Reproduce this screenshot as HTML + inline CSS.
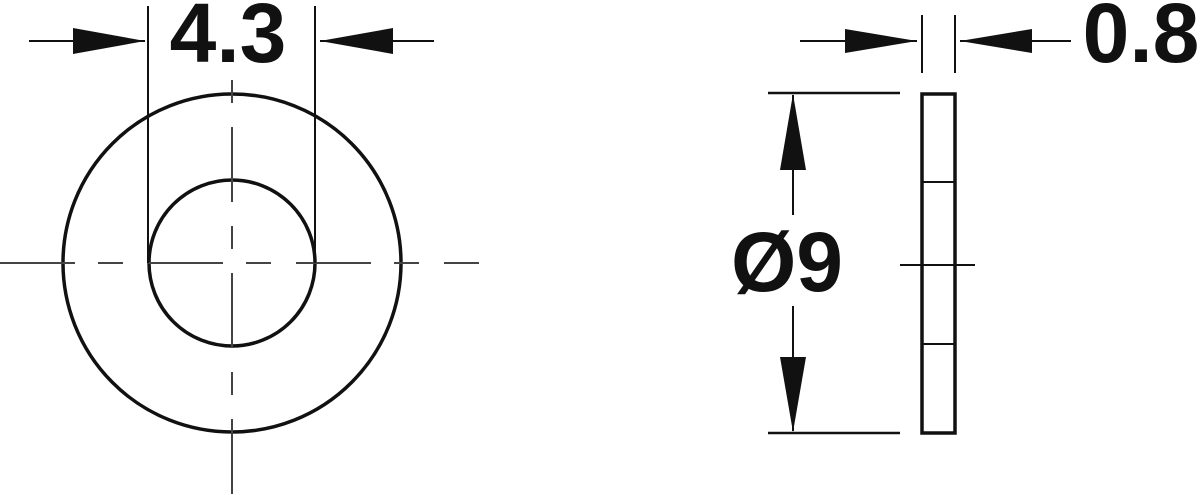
<!DOCTYPE html>
<html><head><style>html,body{margin:0;padding:0;background:#fff;}svg{display:block}</style></head>
<body>
<svg width="1200" height="495" viewBox="0 0 1200 495" xmlns="http://www.w3.org/2000/svg">
<g fill="none" stroke="#111">
<circle cx="232" cy="263" r="169" stroke-width="3.5"/>
<circle cx="232" cy="263" r="83" stroke-width="3.5"/>
<line x1="0" y1="263" x2="479" y2="263" stroke-width="2" stroke="#444" stroke-dasharray="75,23,25,25"/>
<line x1="232" y1="80" x2="232" y2="495" stroke-width="2" stroke="#444" stroke-dasharray="23,24,75,24"/>
<line x1="148" y1="6" x2="148" y2="263" stroke-width="2"/>
<line x1="315" y1="6" x2="315" y2="263" stroke-width="2"/>
<line x1="29" y1="41" x2="145" y2="41" stroke-width="2"/>
<line x1="320" y1="41" x2="434" y2="41" stroke-width="2"/>
<rect x="922" y="94" width="33" height="339" stroke-width="3.5"/>
<line x1="922" y1="182" x2="955" y2="182" stroke-width="2"/>
<line x1="922" y1="344" x2="955" y2="344" stroke-width="2"/>
<line x1="900" y1="265" x2="975" y2="265" stroke-width="2"/>
<line x1="922" y1="15" x2="922" y2="73" stroke-width="2"/>
<line x1="955" y1="15" x2="955" y2="73" stroke-width="2"/>
<line x1="800" y1="41" x2="917" y2="41" stroke-width="2"/>
<line x1="960" y1="41" x2="1071" y2="41" stroke-width="2"/>
<line x1="768" y1="93" x2="900" y2="93" stroke-width="2.5"/>
<line x1="768" y1="433" x2="900" y2="433" stroke-width="2.5"/>
<line x1="793" y1="95" x2="793" y2="215" stroke-width="2"/>
<line x1="793" y1="306" x2="793" y2="431" stroke-width="2"/>
</g>
<g fill="#111">
<polygon points="73,28 145,41 73,54"/>
<polygon points="393,28 320,41 393,54"/>
<polygon points="845,29 917,41 845,53"/>
<polygon points="1032,29 960,41 1032,53"/>
<polygon points="780,170 793,94 806,170"/>
<polygon points="780,357 793,432 806,357"/>
</g>
<g font-family="Liberation Sans, sans-serif" font-weight="bold" fill="#111" font-size="84">
<text x="228" y="62" text-anchor="middle">4.3</text>
<text x="1141" y="62" text-anchor="middle">0.8</text>
<text x="787" y="291" text-anchor="middle">Ø9</text>
</g>
</svg>
</body></html>
